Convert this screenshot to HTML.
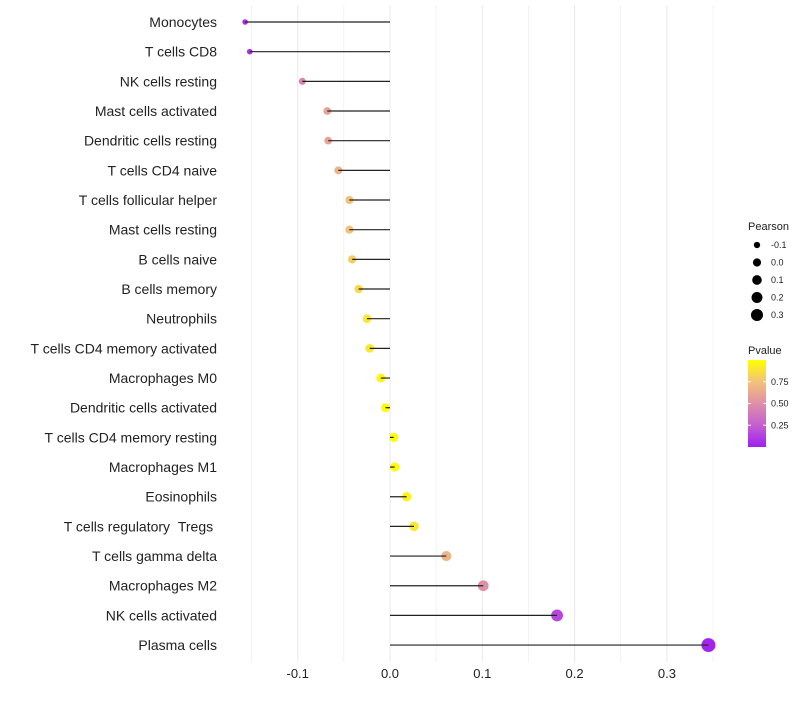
<!DOCTYPE html>
<html><head><meta charset="utf-8"><style>
body{margin:0;background:#fff;font-family:"Liberation Sans",sans-serif}
svg text{font-family:"Liberation Sans",sans-serif;white-space:pre}
</style></head><body>
<svg id="chart" width="800" height="700"></svg>
<script>
const categories=["Monocytes","T cells CD8","NK cells resting","Mast cells activated","Dendritic cells resting","T cells CD4 naive","T cells follicular helper","Mast cells resting","B cells naive","B cells memory","Neutrophils","T cells CD4 memory activated","Macrophages M0","Dendritic cells activated","T cells CD4 memory resting","Macrophages M1","Eosinophils","T cells regulatory\u00a0\u00a0Tregs\u00a0","T cells gamma delta","Macrophages M2","NK cells activated","Plasma cells"];
const pearson=[-0.157,-0.152,-0.095,-0.068,-0.067,-0.056,-0.044,-0.044,-0.041,-0.034,-0.025,-0.022,-0.010,-0.005,0.004,0.005,0.018,0.026,0.061,0.101,0.181,0.345];
const pvalue=[0.05,0.08,0.45,0.6,0.6,0.68,0.75,0.75,0.8,0.85,0.9,0.9,0.96,0.99,0.99,0.99,0.94,0.9,0.68,0.5,0.15,0.02];
const xTicks=[-0.1,0,0.1,0.2,0.3];
const xTickLabels=["-0.1","0.0","0.1","0.2","0.3"];
const sizeLegend=[-0.1,0,0.1,0.2,0.3];
const sizeLegendLabels=["-0.1","0.0","0.1","0.2","0.3"];
const colorTicks=[0.25,0.5,0.75];
const colorTickLabels=["0.25","0.50","0.75"];

const svg=document.getElementById('chart');
const NS='http://www.w3.org/2000/svg';
function mk(t,a,p){const e=document.createElementNS(NS,t);for(const k in a)e.setAttribute(k,a[k]);(p||svg).appendChild(e);return e;}
const x=v=>390+v*923;
const y=i=>22+i*29.67;
const r=v=>Math.sqrt(Math.max(1,20.5+82*v));
const stops=[[0,[160,32,240]],[0.25,[196,95,208]],[0.5,[224,143,168]],[0.75,[242,194,122]],[1,[255,255,0]]];
function col(p){p=Math.max(0,Math.min(1,p));for(let i=1;i<stops.length;i++){if(p<=stops[i][0]){const a=stops[i-1],b=stops[i],t=(p-a[0])/(b[0]-a[0]);return 'rgb('+a[1].map((c,k)=>Math.round(c+(b[1][k]-c)*t)).join(',')+')';}}}

for(let v=-0.15;v<=0.351;v+=0.05){
  const g=mk('line',{x1:x(v),x2:x(v),y1:5,y2:662,stroke:'#ebebeb','stroke-width':Math.abs(Math.round(v*100))%10===0?1.1:0.6});
  
  
}
xTicks.forEach((v,i)=>{
  const t=mk('text',{x:x(v),y:678,'text-anchor':'middle','font-size':13,fill:'#222'});
  t.textContent=xTickLabels[i];
  
  
});
categories.forEach((c,i)=>{
  const t=mk('text',{x:217,y:y(i)+5,'text-anchor':'end','font-size':14,fill:'#222'});
  t.textContent=c;
  
  
  const d=mk('circle',{cx:x(pearson[i]),cy:y(i),r:r(pearson[i]),fill:col(pvalue[i])});
  
  
  const l=mk('line',{x1:x(0),x2:x(pearson[i]),y1:y(i),y2:y(i),stroke:'#222','stroke-width':1.2});
  
  
});
const st=mk('text',{x:748,y:230,'font-size':11,fill:'#222'});st.textContent='Pearson';


sizeLegend.forEach((v,i)=>{
  const cy=245+i*17.5;
  const c=mk('circle',{cx:757,cy:cy,r:r(v)*0.9,fill:'#000'});
  
  
  const t=mk('text',{x:771,y:cy+3,'font-size':9,fill:'#222'});t.textContent=sizeLegendLabels[i];
  
  
});
const ct=mk('text',{x:748,y:354,'font-size':11,fill:'#222'});ct.textContent='Pvalue';


const defs=mk('defs',{});
const lg=mk('linearGradient',{id:'pg',x1:0,y1:1,x2:0,y2:0},defs);
stops.forEach(s=>mk('stop',{offset:s[0],'stop-color':'rgb('+s[1].join(',')+')'},lg));
const cb=mk('rect',{x:748,y:360,width:18,height:87,fill:'url(#pg)'});


colorTicks.forEach((v,i)=>{
  const yy=447-v*87;
  mk('line',{x1:748,x2:751,y1:yy,y2:yy,stroke:'#fff'});
  mk('line',{x1:763,x2:766,y1:yy,y2:yy,stroke:'#fff'});
  const t=mk('text',{x:771,y:yy+3,'font-size':9,fill:'#222'});t.textContent=colorTickLabels[i];
  
  
});
</script>
</body></html>
